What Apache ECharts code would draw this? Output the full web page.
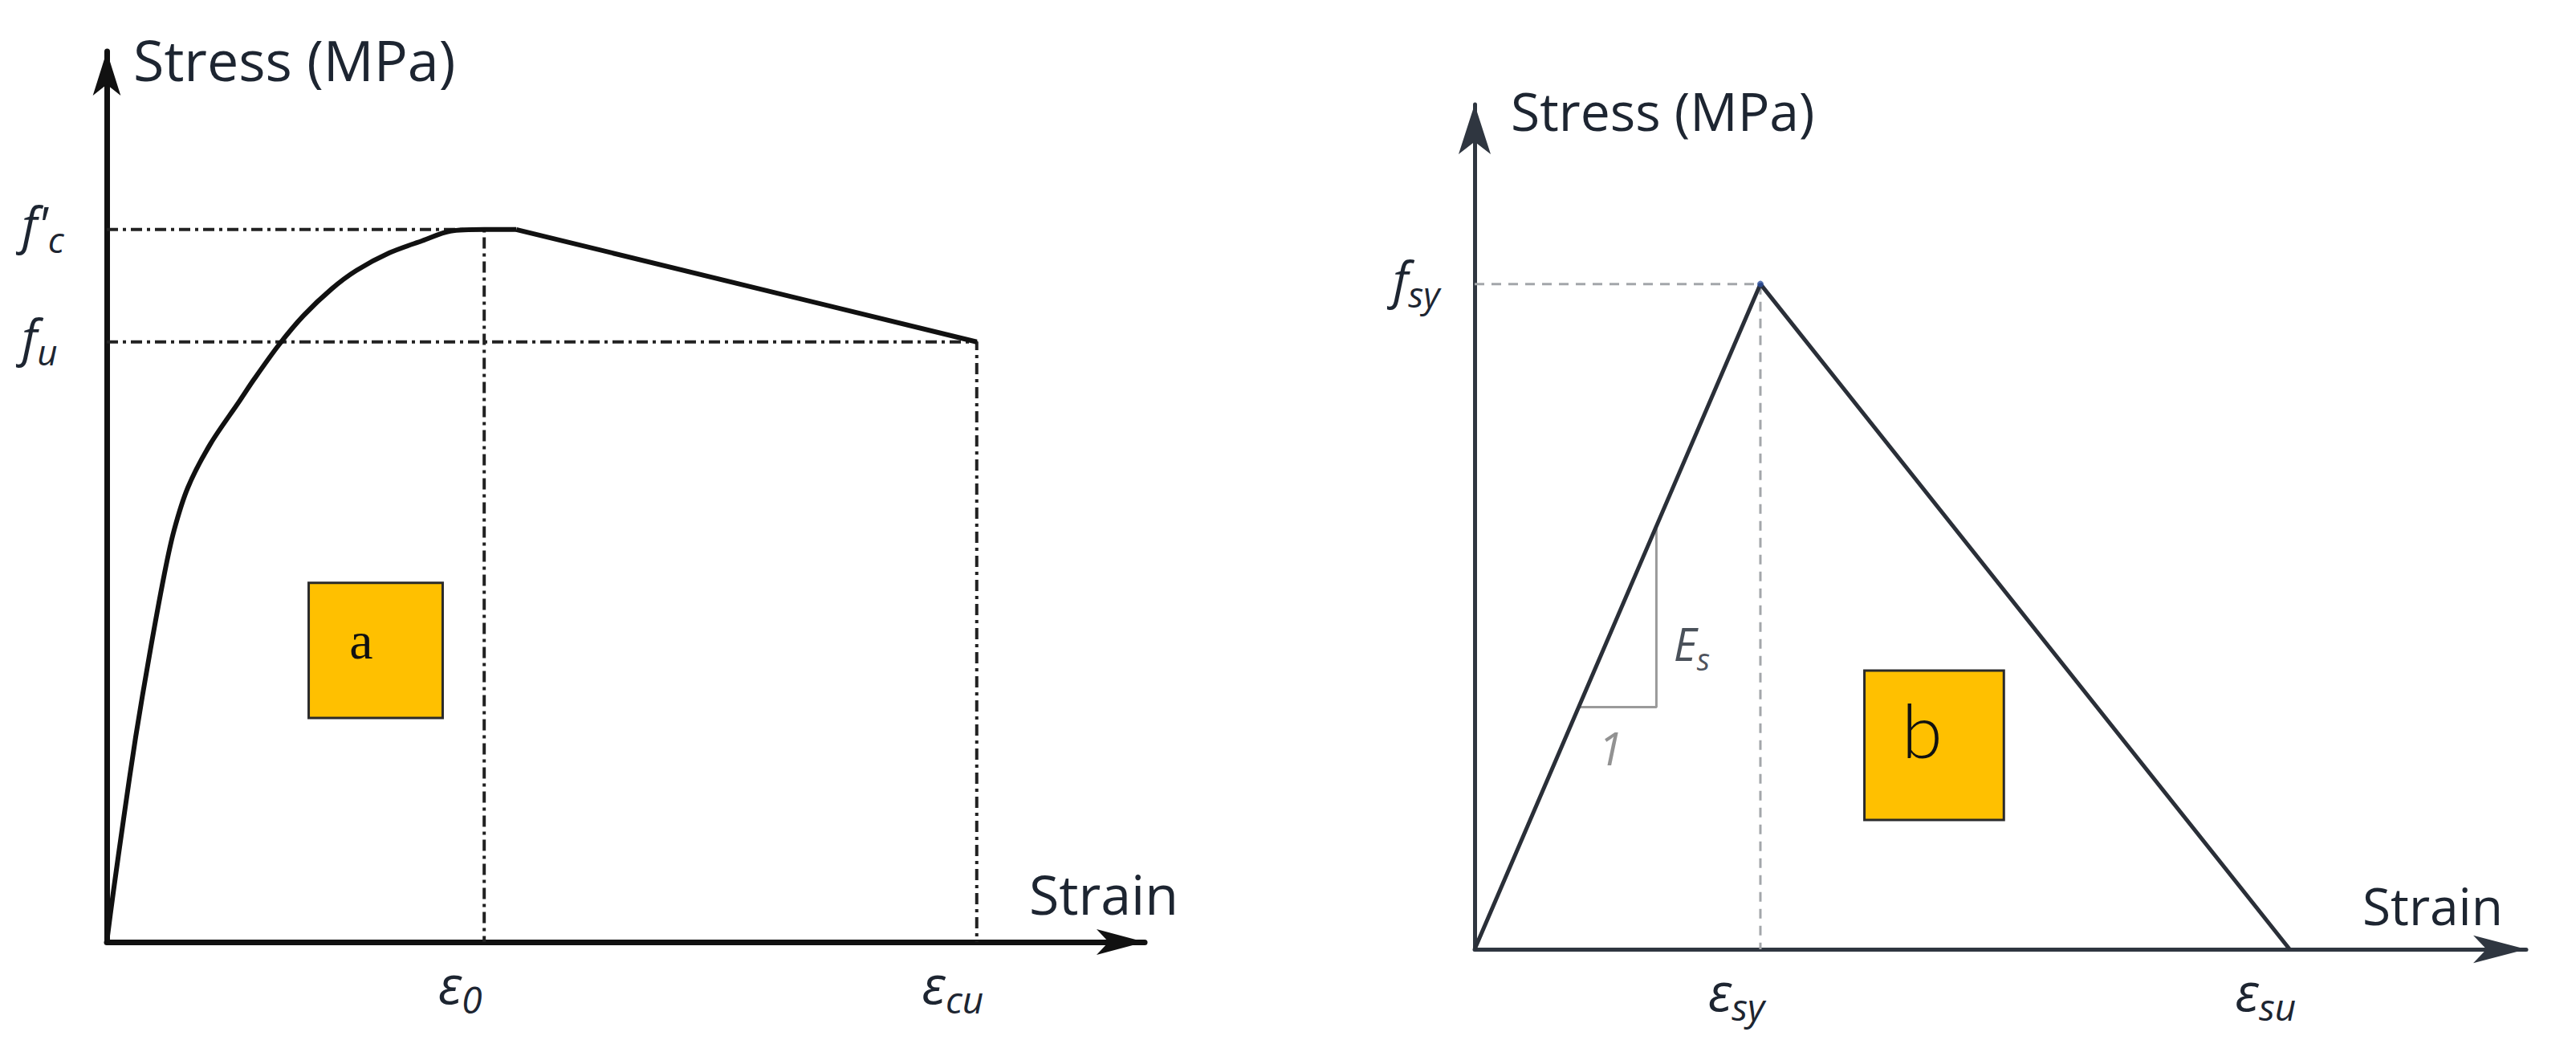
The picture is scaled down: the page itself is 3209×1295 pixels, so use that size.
<!DOCTYPE html>
<html>
<head>
<meta charset="utf-8">
<title>Stress-strain models</title>
<script src="https://cdn.jsdelivr.net/npm/echarts@6/dist/echarts.min.js"></script>
<style>
html,body{margin:0;padding:0;background:#fff;}
#chart{width:3209px;height:1295px;}
</style>
</head>
<body>
<div id="chart"></div>
<script>
// (a) concrete, strain in per mille, stress in MPa (schematic)
var concreteStrain = [0, 0.034, 0.089, 0.153, 0.226, 0.306, 0.357, 0.430, 0.549, 0.702, 0.779, 0.911, 1.043, 1.191, 1.323, 1.498, 1.672, 1.821, 2.00, 2.17, 4.61];
var concreteStress = [0, 2.75, 6.90, 11.50, 16.10, 20.70, 23.13, 25.52, 27.96, 30.35, 31.57, 33.51, 35.17, 36.66, 37.70, 38.69, 39.37, 39.91, 40, 40, 33.69];
var concreteStrainTicks = [2.0, 4.61];
var concreteStrainNames = [['ε', '0'], ['ε', 'cu']];
var concreteStressTicks = [40, 33.69];
var concreteStressNames = [["f'", 'c'], ['f', 'u']];
var boxA = [[1.07, 20.16], [1.78, 12.58]];

// (b) steel
var steelStrain = [0, 2.5, 7.13];
var steelStress = [0, 500, 0];
var steelStrainTicks = [2.5, 7.13];
var steelStrainNames = [['ε', 'sy'], ['ε', 'su']];
var steelStressTicks = [500];
var steelStressNames = [['f', 'sy']];
var slopeStrain = [0.91, 1.59, 1.59];
var slopeStress = [182, 182, 318];
var slopeLabelPos = [[1.74, 226], [1.19, 147]];
var slopeLabelNames = [['E', 's'], ['1', '']];
var boxB = [[3.41, 209.5], [4.63, 97.2]];

var ink = '#1d2531';

function zip(xs, ys) {
	var out = [];
	for (var i = 0; i < xs.length; i++) out.push([xs[i], ys[i]]);
	return out;
}

function subText(pair) {
	return pair[1] ? '{m|' + pair[0] + '}{s|' + pair[1] + '}' : '{m|' + pair[0] + '}';
}

function tickNamer(ticks, names) {
	return function (v) {
		var best = 0;
		for (var i = 1; i < ticks.length; i++) {
			if (Math.abs(ticks[i] - v) < Math.abs(ticks[best] - v)) best = i;
		}
		return subText(names[best]);
	};
}

function italicRich(size, subSize, color) {
	return {
		m: {fontFamily: 'Open Sans', fontStyle: 'italic', fontSize: size, lineHeight: size + 6, color: color, verticalAlign: 'bottom', padding: [0, 0, 10, 0]},
		s: {fontFamily: 'Open Sans', fontStyle: 'italic', fontSize: subSize, lineHeight: subSize + 4, color: color, verticalAlign: 'bottom'}
	};
}

// dashed L from the stress axis to the point and down to the strain axis
function guide(x, y) {
	return [[0, y], [x, y], [x, 0]];
}

var concreteAxisLine = {show: true, onZero: true, lineStyle: {color: '#111', width: 7}};
var steelAxisLine = {show: true, onZero: true, lineStyle: {color: '#2f3640', width: 5}};

var myChart = echarts.init(document.getElementById('chart'), null, {renderer: 'svg'});

var option = {
	animation: false,
	backgroundColor: '#fff',
	grid: [
		{left: 133, top: 64, width: 1293, height: 1109, containLabel: false, outerBoundsMode: 'none'},
		{left: 1837, top: 130, width: 1310, height: 1052, containLabel: false, outerBoundsMode: 'none'}
	],
	xAxis: [
		{
			gridIndex: 0, type: 'value', min: 0, max: 5.5,
			axisLine: echarts.util.merge({symbol: ['none', 'arrow'], symbolSize: [24, 60]}, concreteAxisLine),
			axisTick: {show: false}, splitLine: {show: false},
			axisLabel: {customValues: concreteStrainTicks, formatter: tickNamer(concreteStrainTicks, concreteStrainNames),
				margin: 22, padding: [0, 60, 0, 0], rich: italicRich(66, 46, ink)},
			name: 'Strain', nameLocation: 'end', nameGap: 42, nameMoveOverlap: false,
			nameTextStyle: {fontFamily: 'Open Sans', fontSize: 68, color: ink, align: 'right', verticalAlign: 'bottom', lineHeight: 122}
		},
		{
			gridIndex: 1, type: 'value', min: 0, max: 9.2,
			axisLine: echarts.util.merge({symbol: ['none', 'arrow'], symbolSize: [26, 66]}, steelAxisLine),
			axisTick: {show: false}, splitLine: {show: false},
			axisLabel: {customValues: steelStrainTicks, formatter: tickNamer(steelStrainTicks, steelStrainNames),
				margin: 22, padding: [0, 60, 0, 0], rich: italicRich(66, 46, ink)},
			name: 'Strain', nameLocation: 'end', nameGap: -29, nameMoveOverlap: false,
			nameTextStyle: {fontFamily: 'Open Sans', fontSize: 64, color: ink, align: 'right', verticalAlign: 'bottom', lineHeight: 110}
		}
	],
	yAxis: [
		{
			gridIndex: 0, type: 'value', min: 0, max: 50,
			axisLine: echarts.util.merge({symbol: ['none', 'arrow'], symbolSize: [26, 55]}, concreteAxisLine),
			axisTick: {show: false}, splitLine: {show: false},
			axisLabel: {customValues: concreteStressTicks, formatter: tickNamer(concreteStressTicks, concreteStressNames),
				margin: 106, align: 'left', rich: italicRich(62, 44, ink)},
			name: 'Stress (MPa)', nameLocation: 'end', nameGap: -10, nameMoveOverlap: false,
			nameTextStyle: {fontFamily: 'Open Sans', fontSize: 70, color: ink, align: 'left', verticalAlign: 'middle', padding: [0, 0, 0, 33]}
		},
		{
			gridIndex: 1, type: 'value', min: 0, max: 635,
			axisLine: echarts.util.merge({symbol: ['none', 'arrow'], symbolSize: [30, 62]}, steelAxisLine),
			axisTick: {show: false}, splitLine: {show: false},
			axisLabel: {customValues: steelStressTicks, formatter: tickNamer(steelStressTicks, steelStressNames),
				margin: 102, align: 'left', rich: italicRich(62, 44, ink)},
			name: 'Stress (MPa)', nameLocation: 'end', nameGap: -7, nameMoveOverlap: false,
			nameTextStyle: {fontFamily: 'Open Sans', fontSize: 66, color: ink, align: 'left', verticalAlign: 'middle', padding: [0, 0, 0, 45]}
		}
	],
	series: []
};

// concrete curve: smooth rising branch up to the plateau, straight softening branch after it
var concretePoints = zip(concreteStrain, concreteStress);
var lastIdx = concretePoints.length - 1;
option.series.push({
	type: 'line', xAxisIndex: 0, yAxisIndex: 0, z: 4,
	data: concretePoints.slice(0, lastIdx),
	smooth: 0.3,
	showSymbol: false, silent: true,
	lineStyle: {color: '#111', width: 6, join: 'round'},
	markArea: {
		silent: true,
		itemStyle: {color: '#FFC000', borderColor: '#2a2a2a', borderWidth: 3, opacity: 1},
		label: {show: true, position: 'inside', offset: [-18, -12], formatter: 'a',
			fontFamily: 'Liberation Serif', fontSize: 66, color: '#111'},
		data: [[{coord: boxA[0]}, {coord: boxA[1]}]]
	}
});
option.series.push({
	type: 'line', xAxisIndex: 0, yAxisIndex: 0, z: 4,
	data: concretePoints.slice(lastIdx - 1),
	showSymbol: false, silent: true,
	lineStyle: {color: '#111', width: 6, join: 'round'}
});
for (var i = 0; i < concreteStrainTicks.length; i++) {
	option.series.push({
		type: 'line', xAxisIndex: 0, yAxisIndex: 0, z: 3,
		data: guide(concreteStrainTicks[i], concreteStressTicks[i]),
		showSymbol: false, silent: true,
		lineStyle: {color: '#222', width: 4, type: [14, 6, 4, 6]}
	});
}

// steel triangle with the "b" box
option.series.push({
	type: 'line', xAxisIndex: 1, yAxisIndex: 1, z: 4,
	data: zip(steelStrain, steelStress),
	showSymbol: false, silent: true,
	lineStyle: {color: '#2a2f38', width: 5},
	markArea: {
		silent: true,
		itemStyle: {color: '#FFC000', borderColor: '#2a2a2a', borderWidth: 3, opacity: 1},
		label: {show: true, position: 'inside', offset: [-15, -19], formatter: 'b',
			fontFamily: 'Lato', fontWeight: 300, fontSize: 92, color: '#111'},
		data: [[{coord: boxB[0]}, {coord: boxB[1]}]]
	}
});
option.series.push({
	type: 'line', xAxisIndex: 1, yAxisIndex: 1, z: 3,
	data: guide(steelStrainTicks[0], steelStressTicks[0]),
	showSymbol: false, silent: true,
	lineStyle: {color: '#a3a6aa', width: 3, type: [12, 9]}
});
option.series.push({
	type: 'line', xAxisIndex: 1, yAxisIndex: 1, z: 3,
	data: zip(slopeStrain, slopeStress),
	showSymbol: false, silent: true,
	lineStyle: {color: '#9a9a9a', width: 3}
});
option.series.push({
	type: 'scatter', xAxisIndex: 1, yAxisIndex: 1, z: 5, silent: true,
	data: [[steelStrain[1], steelStress[1]]],
	symbolSize: 8, itemStyle: {color: '#2b4f9e'}
});
option.series.push({
	type: 'scatter', xAxisIndex: 1, yAxisIndex: 1, z: 5, silent: true,
	symbolSize: 0,
	data: slopeLabelPos.map(function (p, k) {
		return {
			value: p,
			label: {
				show: true, position: 'inside', align: k === 0 ? 'left' : 'center',
				formatter: subText(slopeLabelNames[k]),
				rich: italicRich(56, 38, k === 0 ? ink : '#777')
			}
		};
	})
});

myChart.setOption(option);
</script>
</body>
</html>
